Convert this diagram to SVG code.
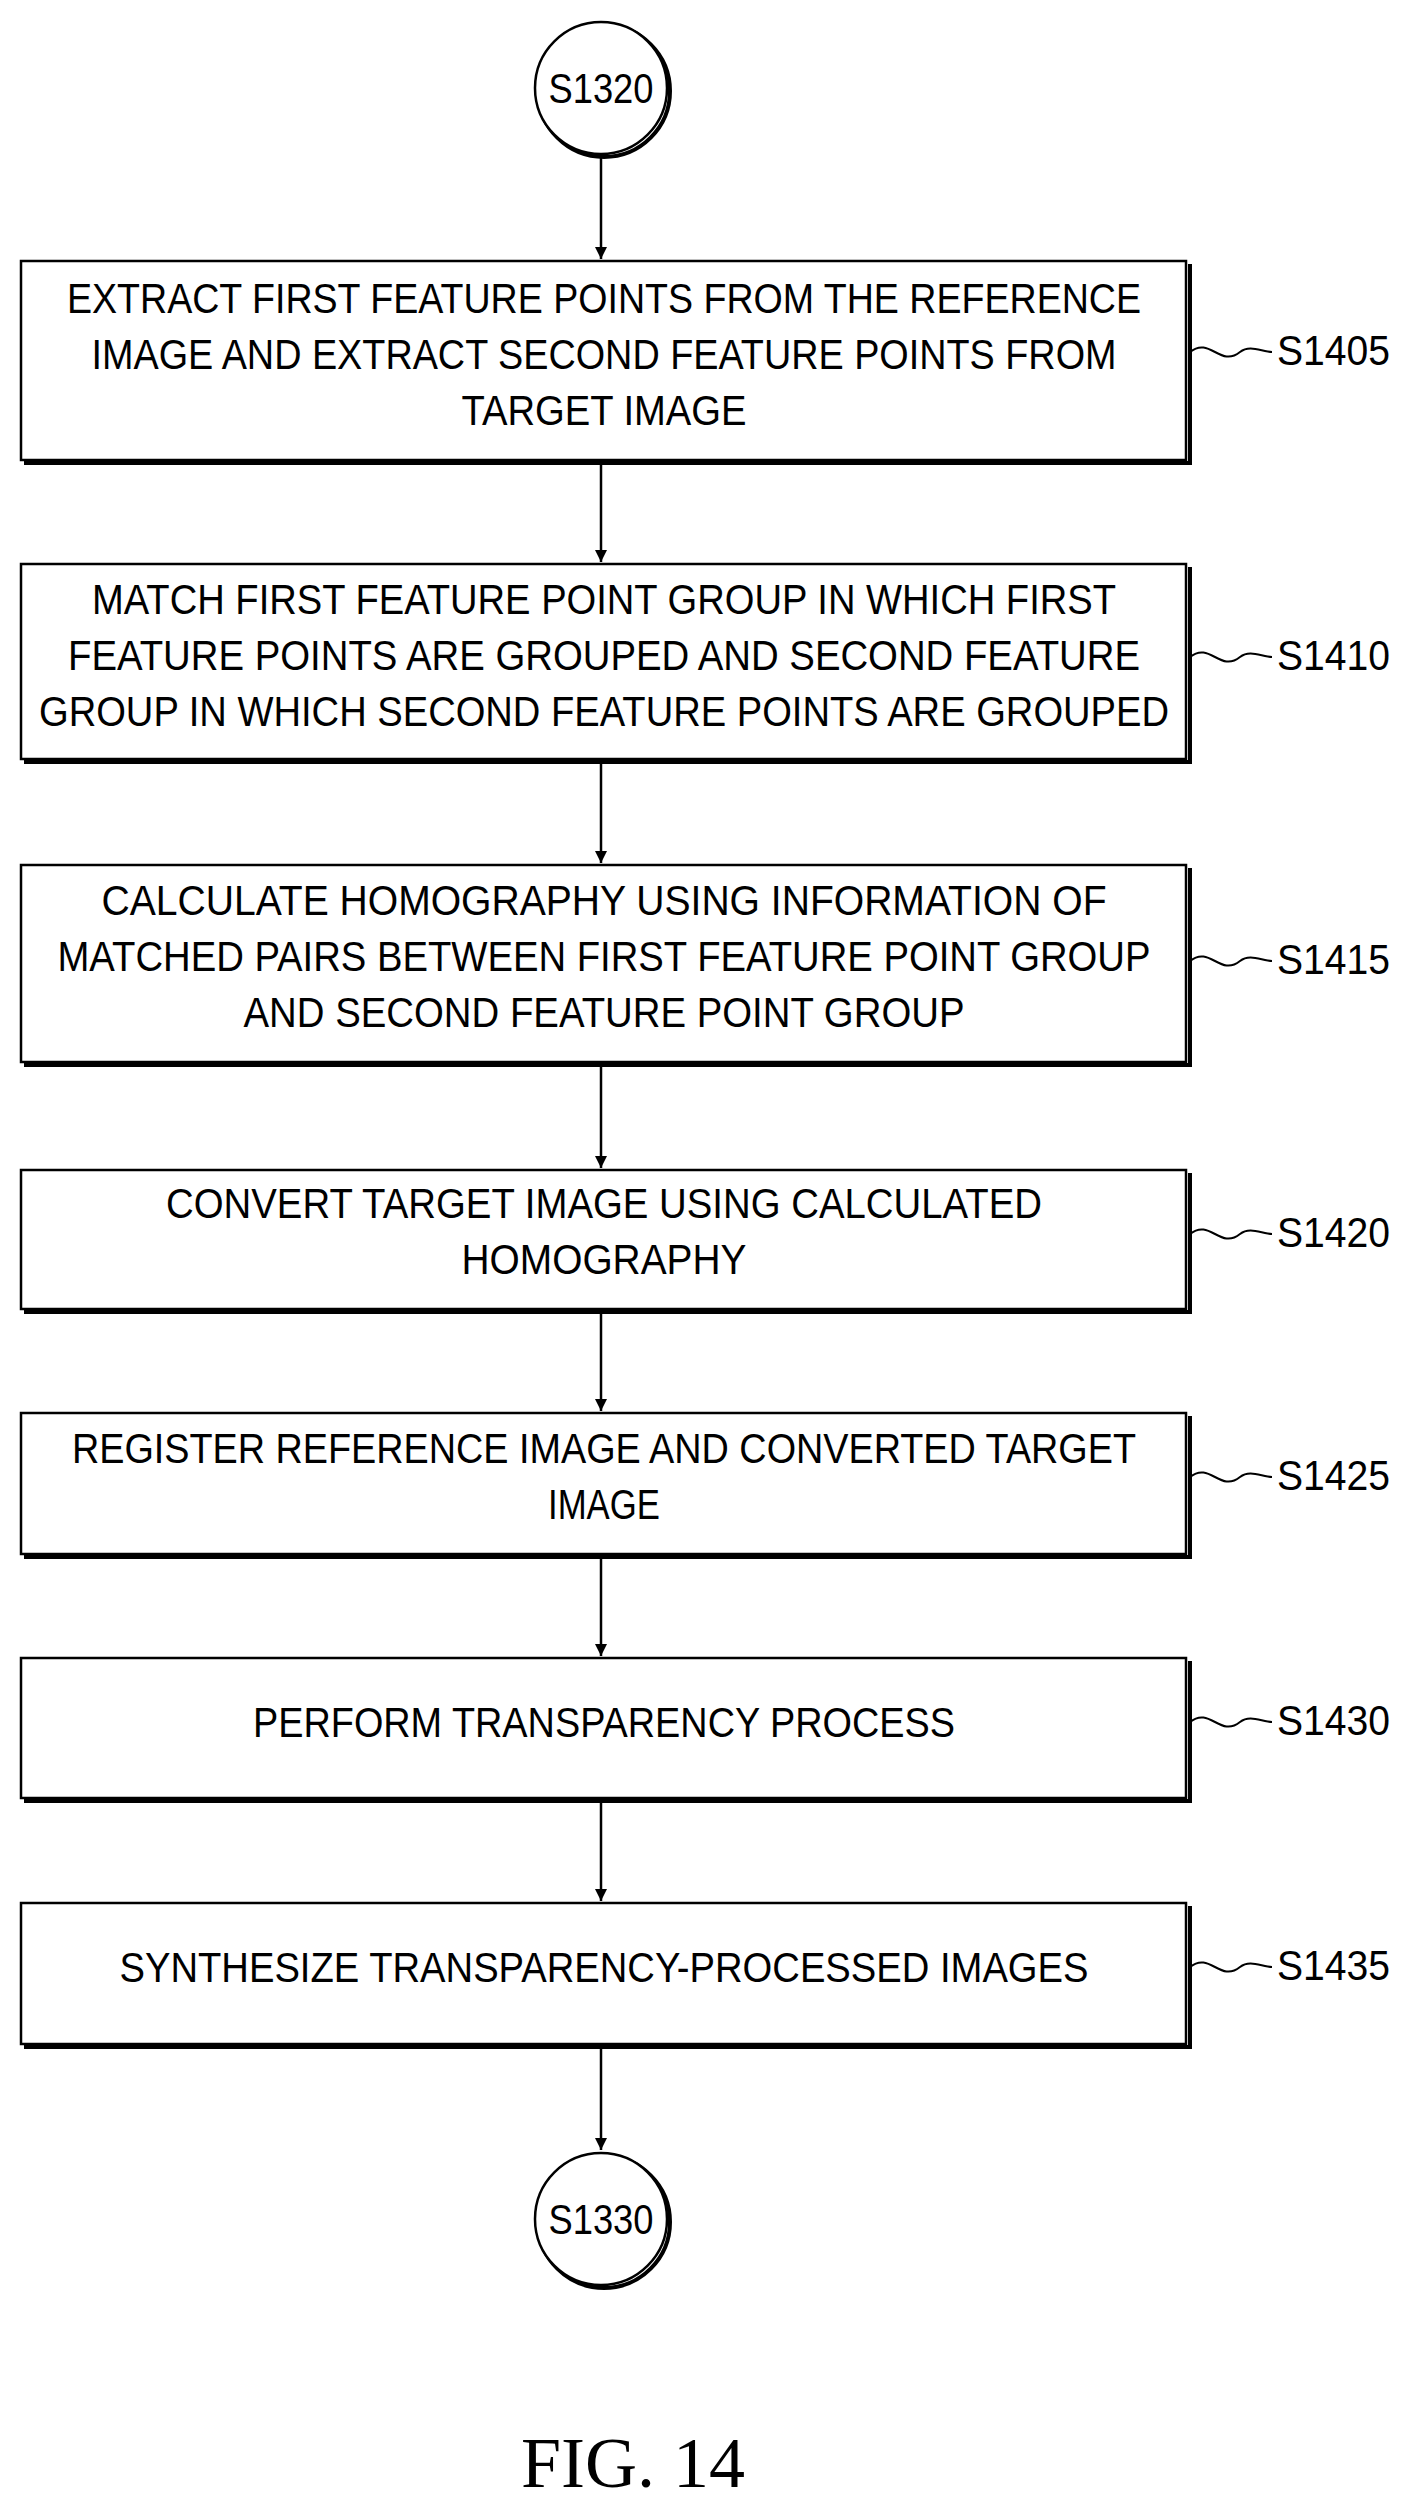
<svg xmlns="http://www.w3.org/2000/svg" width="1410" height="2516" viewBox="0 0 1410 2516">
<style>
.b{fill:#fff;stroke:#000;stroke-width:2.5}
.sh{fill:none;stroke:#000;stroke-width:4}
.t{font-family:"Liberation Sans",Arial,sans-serif;font-size:42px;text-anchor:middle}
.l{font-family:"Liberation Sans",Arial,sans-serif;font-size:42px}
.c{fill:none;stroke:#000;stroke-width:2.5}
.w{fill:none;stroke:#000;stroke-width:2}
</style>
<defs><marker id="a" markerWidth="12" markerHeight="16" refX="12" refY="8" orient="auto" markerUnits="userSpaceOnUse"><path d="M0,2 L12,8 L0,14 Z"/></marker></defs>
<rect width="1410" height="2516" fill="#fff"/>
<g id="connectors">
<line class="c" x1="601" y1="155" x2="601" y2="259" marker-end="url(#a)"/>
<line class="c" x1="601" y1="462" x2="601" y2="562" marker-end="url(#a)"/>
<line class="c" x1="601" y1="761" x2="601" y2="863" marker-end="url(#a)"/>
<line class="c" x1="601" y1="1064" x2="601" y2="1168" marker-end="url(#a)"/>
<line class="c" x1="601" y1="1311" x2="601" y2="1411" marker-end="url(#a)"/>
<line class="c" x1="601" y1="1556" x2="601" y2="1656" marker-end="url(#a)"/>
<line class="c" x1="601" y1="1800" x2="601" y2="1901" marker-end="url(#a)"/>
<line class="c" x1="601" y1="2046" x2="601" y2="2150" marker-end="url(#a)"/>
</g>
<g id="s1320"><circle cx="604" cy="91" r="66" class="sh"/><circle cx="601" cy="88" r="66" class="b"/><text class="t" x="601" y="103" textLength="105" lengthAdjust="spacingAndGlyphs">S1320</text></g>
<g id="n1405"><path class="sh" d="M24,463 H1190 V264"/><rect class="b" x="21" y="261" width="1165" height="199"/>
<text class="t" x="604" y="313" textLength="1074" lengthAdjust="spacingAndGlyphs">EXTRACT FIRST FEATURE POINTS FROM THE REFERENCE</text>
<text class="t" x="604" y="369" textLength="1025" lengthAdjust="spacingAndGlyphs">IMAGE AND EXTRACT SECOND FEATURE POINTS FROM</text>
<text class="t" x="604" y="425" textLength="285" lengthAdjust="spacingAndGlyphs">TARGET IMAGE</text>
<path class="w" d="M1190,352 C1210,336 1220,368 1240,352 C1250,344 1262,352 1272,352"/><text class="l" x="1277" y="365" textLength="113" lengthAdjust="spacingAndGlyphs">S1405</text></g>
<g id="n1410"><path class="sh" d="M24,762 H1190 V567"/><rect class="b" x="21" y="564" width="1165" height="195"/>
<text class="t" x="604" y="614" textLength="1024" lengthAdjust="spacingAndGlyphs">MATCH FIRST FEATURE POINT GROUP IN WHICH FIRST</text>
<text class="t" x="604" y="670" textLength="1072" lengthAdjust="spacingAndGlyphs">FEATURE POINTS ARE GROUPED AND SECOND FEATURE</text>
<text class="t" x="604" y="726" textLength="1130" lengthAdjust="spacingAndGlyphs">GROUP IN WHICH SECOND FEATURE POINTS ARE GROUPED</text>
<path class="w" d="M1190,657 C1210,641 1220,673 1240,657 C1250,649 1262,657 1272,657"/><text class="l" x="1277" y="670" textLength="113" lengthAdjust="spacingAndGlyphs">S1410</text></g>
<g id="n1415"><path class="sh" d="M24,1065 H1190 V868"/><rect class="b" x="21" y="865" width="1165" height="197"/>
<text class="t" x="604" y="915" textLength="1005" lengthAdjust="spacingAndGlyphs">CALCULATE HOMOGRAPHY USING INFORMATION OF</text>
<text class="t" x="604" y="971" textLength="1093" lengthAdjust="spacingAndGlyphs">MATCHED PAIRS BETWEEN FIRST FEATURE POINT GROUP</text>
<text class="t" x="604" y="1027" textLength="721" lengthAdjust="spacingAndGlyphs">AND SECOND FEATURE POINT GROUP</text>
<path class="w" d="M1190,961 C1210,945 1220,977 1240,961 C1250,953 1262,961 1272,961"/><text class="l" x="1277" y="974" textLength="113" lengthAdjust="spacingAndGlyphs">S1415</text></g>
<g id="n1420"><path class="sh" d="M24,1312 H1190 V1173"/><rect class="b" x="21" y="1170" width="1165" height="139"/>
<text class="t" x="604" y="1218" textLength="876" lengthAdjust="spacingAndGlyphs">CONVERT TARGET IMAGE USING CALCULATED</text>
<text class="t" x="604" y="1274" textLength="285" lengthAdjust="spacingAndGlyphs">HOMOGRAPHY</text>
<path class="w" d="M1190,1234 C1210,1218 1220,1250 1240,1234 C1250,1226 1262,1234 1272,1234"/><text class="l" x="1277" y="1247" textLength="113" lengthAdjust="spacingAndGlyphs">S1420</text></g>
<g id="n1425"><path class="sh" d="M24,1557 H1190 V1416"/><rect class="b" x="21" y="1413" width="1165" height="141"/>
<text class="t" x="604" y="1463" textLength="1064" lengthAdjust="spacingAndGlyphs">REGISTER REFERENCE IMAGE AND CONVERTED TARGET</text>
<text class="t" x="604" y="1519" textLength="112" lengthAdjust="spacingAndGlyphs">IMAGE</text>
<path class="w" d="M1190,1477 C1210,1461 1220,1493 1240,1477 C1250,1469 1262,1477 1272,1477"/><text class="l" x="1277" y="1490" textLength="113" lengthAdjust="spacingAndGlyphs">S1425</text></g>
<g id="n1430"><path class="sh" d="M24,1801 H1190 V1661"/><rect class="b" x="21" y="1658" width="1165" height="140"/>
<text class="t" x="604" y="1737" textLength="702" lengthAdjust="spacingAndGlyphs">PERFORM TRANSPARENCY PROCESS</text>
<path class="w" d="M1190,1722 C1210,1706 1220,1738 1240,1722 C1250,1714 1262,1722 1272,1722"/><text class="l" x="1277" y="1735" textLength="113" lengthAdjust="spacingAndGlyphs">S1430</text></g>
<g id="n1435"><path class="sh" d="M24,2047 H1190 V1906"/><rect class="b" x="21" y="1903" width="1165" height="141"/>
<text class="t" x="604" y="1982" textLength="969" lengthAdjust="spacingAndGlyphs">SYNTHESIZE TRANSPARENCY-PROCESSED IMAGES</text>
<path class="w" d="M1190,1967 C1210,1951 1220,1983 1240,1967 C1250,1959 1262,1967 1272,1967"/><text class="l" x="1277" y="1980" textLength="113" lengthAdjust="spacingAndGlyphs">S1435</text></g>
<g id="s1330"><circle cx="604" cy="2222" r="66" class="sh"/><circle cx="601" cy="2219" r="66" class="b"/><text class="t" x="601" y="2234" textLength="105" lengthAdjust="spacingAndGlyphs">S1330</text></g>
<text x="633" y="2487" font-family="Liberation Serif,serif" font-size="72" text-anchor="middle">FIG. 14</text>
</svg>
